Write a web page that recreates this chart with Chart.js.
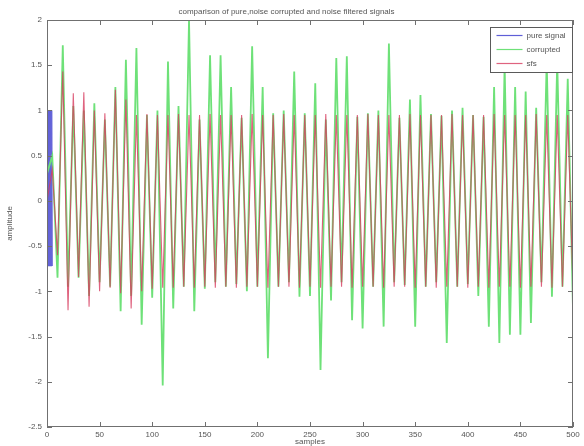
<!DOCTYPE html>
<html>
<head>
<meta charset="utf-8">
<script src="https://cdn.jsdelivr.net/npm/chart.js@4.4.1/dist/chart.umd.min.js"></script>
<style>
  html, body { margin: 0; padding: 0; background: #fff; }
  #chart { display: block; }
</style>
</head>
<body>
<canvas id="chart" width="584" height="446"></canvas>
<script>
// sample index where each half-cycle turns (corrupted + filtered share these)
const samples = [
  0, 5, 10, 15, 20, 25, 30, 35, 40, 45, 50, 55, 60, 65, 70, 75, 80, 85, 90, 95,
  100, 105, 110, 115, 120, 125, 130, 135, 140, 145, 150, 155, 160, 165, 170, 175, 180, 185, 190, 195,
  200, 205, 210, 215, 220, 225, 230, 235, 240, 245, 250, 255, 260, 265, 270, 275, 280, 285, 290, 295,
  300, 305, 310, 315, 320, 325, 330, 335, 340, 345, 350, 355, 360, 365, 370, 375, 380, 385, 390, 395,
  400, 405, 410, 415, 420, 425, 430, 435, 440, 445, 450, 455, 460, 465, 470, 475, 480, 485, 490, 495,
  500
];

const corrupted = [
  0.3, 0.5, -0.85, 1.72, -0.95, 1.05, -0.85, 1.0, -1.05, 1.08, -0.9, 0.9, -0.95, 1.26, -1.22, 1.56, -1.05, 1.69, -1.37, 0.95,
  -1.07, 1.0, -2.04, 1.54, -1.19, 1.05, -0.95, 2.0, -1.22, 0.9, -0.97, 1.61, -0.9, 1.61, -0.95, 1.26, -0.92, 0.92, -1.0, 1.71,
  -0.95, 1.26, -1.74, 0.97, -0.95, 1.0, -0.9, 1.43, -1.06, 0.97, -1.05, 1.3, -1.87, 0.9, -1.1, 1.58, -0.9, 1.6, -1.32, 0.93,
  -1.41, 0.97, -0.95, 1.0, -1.39, 1.74, -0.9, 0.92, -0.93, 1.12, -1.39, 1.17, -0.95, 0.96, -0.9, 0.94, -1.57, 1.0, -0.95, 1.03,
  -0.92, 0.95, -1.05, 0.93, -1.39, 1.26, -1.57, 1.5, -1.48, 1.26, -1.48, 1.21, -1.35, 1.03, -0.9, 1.54, -1.06, 1.54, -0.95, 1.35,
  -1.2
];

const sfs = [
  0, 0.35, -0.6, 1.43, -1.21, 1.19, -0.84, 1.2, -1.17, 1.0, -1.0, 0.97, -0.96, 1.23, -1.02, 1.12, -1.19, 0.95, -1.0, 0.96,
  -0.97, 0.95, -0.96, 0.95, -0.96, 0.96, -0.95, 0.95, -0.96, 0.95, -0.95, 0.96, -0.96, 0.95, -0.95, 0.95, -0.96, 0.95, -0.95, 0.96,
  -0.95, 0.95, -0.96, 0.95, -0.95, 0.96, -0.95, 0.95, -0.96, 0.95, -0.95, 0.95, -0.96, 0.96, -0.95, 0.95, -0.95, 0.95, -0.96, 0.95,
  -0.95, 0.96, -0.95, 0.95, -0.96, 0.95, -0.95, 0.95, -0.95, 0.96, -0.96, 0.95, -0.95, 0.95, -0.96, 0.95, -0.95, 0.96, -0.95, 0.95,
  -0.96, 0.95, -0.95, 0.95, -0.96, 0.96, -0.95, 0.95, -0.95, 0.95, -0.96, 0.95, -0.95, 0.96, -0.95, 0.95, -0.96, 0.95, -0.95, 0.95,
  -0.96
];

// pure signal was plotted against time, so it is squeezed into the first few samples
const pureTime = [0, 0.25, 0.5, 0.75, 1, 1.25, 1.5, 1.75, 2, 2.25, 2.5, 2.75, 3, 3.25, 3.5, 3.75, 4, 4.25, 4.5, 4.75, 5];
const pureSignal = [0, 1, -0.72, 1, -0.72, 1, -0.72, 1, -0.72, 1, -0.72, 1, -0.72, 1, -0.72, 1, -0.72, 1, -0.72, 1, -0.72];

const xTicks = [0, 50, 100, 150, 200, 250, 300, 350, 400, 450, 500];
const yTicks = [2, 1.5, 1, 0.5, 0, -0.5, -1, -1.5, -2, -2.5];

const FONT = 'Liberation Sans, Arial, sans-serif';
const TEXT = '#555';
const AXIS = '#707070';

function toPoints(xs, ys) {
  return xs.map((x, i) => ({ x, y: ys[i] }));
}

// matlab style box with inward ticks on all four sides + legend box
const matlabFrame = {
  id: 'matlabFrame',
  afterDatasetsDraw(chart) {
    const { ctx, chartArea: a, scales } = chart;
    const len = 5;
    ctx.save();
    ctx.strokeStyle = AXIS;
    ctx.lineWidth = 1;
    ctx.strokeRect(Math.round(a.left) + 0.5, Math.round(a.top) + 0.5,
      Math.round(a.right - a.left) - 1, Math.round(a.bottom - a.top) - 1);
    ctx.beginPath();
    xTicks.forEach(v => {
      const px = Math.round(scales.x.getPixelForValue(v)) + 0.5;
      ctx.moveTo(px, a.bottom); ctx.lineTo(px, a.bottom - len);
      ctx.moveTo(px, a.top); ctx.lineTo(px, a.top + len);
    });
    yTicks.forEach(v => {
      const py = Math.round(scales.y.getPixelForValue(v)) + 0.5;
      ctx.moveTo(a.left, py); ctx.lineTo(a.left + len, py);
      ctx.moveTo(a.right, py); ctx.lineTo(a.right - len, py);
    });
    ctx.stroke();

    // legend
    const w = 82, h = 45;
    const lx = Math.round(a.right) - w - 0.5;
    const ly = Math.round(a.top) + 7.5;
    ctx.fillStyle = '#fff';
    ctx.fillRect(lx, ly, w, h);
    ctx.strokeStyle = '#5a5a5a';
    ctx.strokeRect(lx, ly, w, h);
    ctx.font = '8px ' + FONT;
    ctx.textBaseline = 'middle';
    ctx.textAlign = 'left';
    chart.data.datasets.forEach((ds, i) => {
      const ry = ly + 8 + i * 14;
      ctx.strokeStyle = ds.borderColor;
      ctx.lineWidth = 1.2;
      ctx.beginPath();
      ctx.moveTo(lx + 6, ry);
      ctx.lineTo(lx + 32, ry);
      ctx.stroke();
      ctx.fillStyle = TEXT;
      ctx.fillText(ds.label, lx + 36, ry);
    });
    ctx.restore();
  }
};

const chart = new Chart(document.getElementById('chart'), {
  type: 'line',
  data: {
    datasets: [
      {
        label: 'pure signal',
        data: toPoints(pureTime, pureSignal),
        borderColor: 'rgb(95, 95, 215)',
        borderWidth: 1,
        order: 3
      },
      {
        label: 'corrupted',
        data: toPoints(samples, corrupted),
        borderColor: 'rgb(110, 225, 120)',
        borderWidth: 1.8,
        order: 2
      },
      {
        label: 'sfs',
        data: toPoints(samples, sfs),
        borderColor: 'rgba(215, 60, 95, 0.8)',
        borderWidth: 1.1,
        order: 1
      }
    ]
  },
  options: {
    responsive: false,
    animation: false,
    elements: { point: { radius: 0 }, line: { tension: 0 } },
    layout: { padding: { left: 0, right: 11, top: 0, bottom: 0 } },
    plugins: {
      legend: { display: false },
      tooltip: { enabled: false },
      title: {
        display: true,
        text: 'comparison of pure,noise corrupted and noise filtered signals',
        color: TEXT,
        font: { family: FONT, size: 8, weight: 'normal', lineHeight: 1 },
        padding: { top: 8, bottom: 4 }
      }
    },
    scales: {
      x: {
        type: 'linear',
        min: 0,
        max: 500,
        afterBuildTicks: s => { s.ticks = xTicks.map(v => ({ value: v })); },
        afterFit: s => { s.height = 19; },
        grid: { display: false, drawTicks: false },
        border: { display: false },
        ticks: { color: TEXT, padding: 3, maxRotation: 0, font: { family: FONT, size: 8 }, callback: v => String(v) },
        title: {
          display: true,
          text: 'samples',
          color: TEXT,
          padding: { top: 0, bottom: 0 },
          font: { family: FONT, size: 8, lineHeight: 1 }
        }
      },
      y: {
        type: 'linear',
        min: -2.5,
        max: 2,
        afterBuildTicks: s => { s.ticks = yTicks.map(v => ({ value: v })); },
        afterFit: s => { s.width = 47; },
        grid: { display: false, drawTicks: false },
        border: { display: false },
        ticks: { color: TEXT, padding: 5, font: { family: FONT, size: 8 }, callback: v => String(v) },
        title: {
          display: true,
          text: 'amplitude',
          color: TEXT,
          padding: { top: 6, bottom: 0 },
          font: { family: FONT, size: 8, lineHeight: 1 }
        }
      }
    }
  },
  plugins: [matlabFrame]
});
</script>
</body>
</html>
